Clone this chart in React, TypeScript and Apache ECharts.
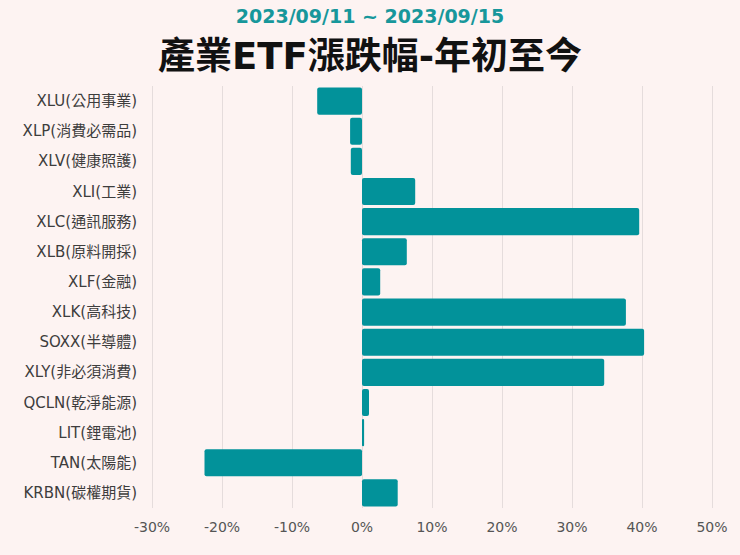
import React, { useEffect, useRef } from "react";
import * as echarts from "echarts";

const categories = [
  "XLU(公用事業)",
  "XLP(消費必需品)",
  "XLV(健康照護)",
  "XLI(工業)",
  "XLC(通訊服務)",
  "XLB(原料開採)",
  "XLF(金融)",
  "XLK(高科技)",
  "SOXX(半導體)",
  "XLY(非必須消費)",
  "QCLN(乾淨能源)",
  "LIT(鋰電池)",
  "TAN(太陽能)",
  "KRBN(碳權期貨)",
];
const values = [-6.4, -1.7, -1.6, 7.6, 39.6, 6.4, 2.6, 37.7, 40.3, 34.6, 1.0, 0.3, -22.5, 5.1];
const subtitle = "2023/09/11 ~ 2023/09/15";
const title = "產業ETF漲跌幅-年初至今";

const FONT = "'DejaVu Sans', 'Noto Sans CJK TC', sans-serif";

export default function App() {
  const ref = useRef<HTMLDivElement>(null);
  useEffect(() => {
    document.body.style.margin = "0";
    const chart = echarts.init(ref.current!, null, { renderer: "svg" });
    chart.setOption({
      animation: false,
      backgroundColor: "#fdf3f2",
      title: [
        {
          text: subtitle,
          left: "center",
          top: 1,
          textStyle: { color: "#17979b", fontSize: 19, fontWeight: "bold", fontFamily: FONT },
        },
        {
          text: title,
          left: "center",
          top: 33,
          textStyle: { color: "#111", fontSize: 37, fontWeight: "bold", fontFamily: FONT },
        },
      ],
      grid: { left: 152, right: 28, top: 86, bottom: 47, containLabel: false },
      xAxis: {
        type: "value",
        min: -30,
        max: 50,
        interval: 10,
        axisLabel: {
          formatter: "{value}%",
          color: "#555",
          fontSize: 14,
          margin: 12,
          fontFamily: FONT,
        },
        axisLine: { show: false },
        axisTick: { show: false },
        splitLine: { show: true, lineStyle: { color: "#e5dcdc", width: 1 } },
      },
      yAxis: {
        type: "category",
        inverse: true,
        data: categories,
        axisLabel: { color: "#3d3d3d", fontSize: 15, margin: 15, fontFamily: FONT },
        axisLine: { show: false },
        axisTick: { show: false },
        splitLine: { show: false },
      },
      series: [
        {
          type: "bar",
          data: values,
          barCategoryGap: "10%",
          itemStyle: { color: "#02929a", borderRadius: 2 },
        },
      ],
    });
    return () => chart.dispose();
  }, []);
  return <div ref={ref} style={{ width: 740, height: 555, position: "absolute", left: 0, top: 0 }} />;
}
